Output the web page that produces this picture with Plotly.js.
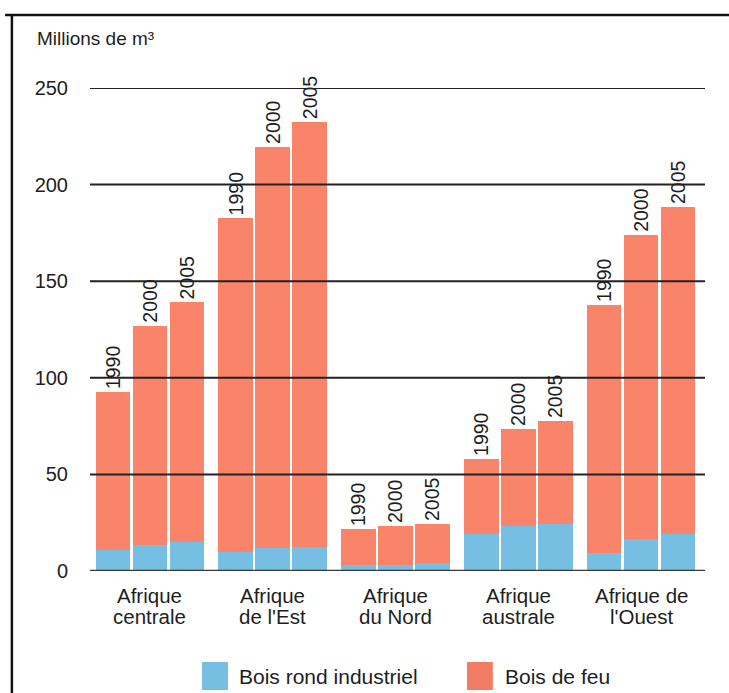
<!DOCTYPE html>
<html>
<head>
<meta charset="utf-8">
<script src="https://cdn.plot.ly/plotly-3.0.1.min.js"></script>
<style>html,body{margin:0;padding:0;background:#fff;}#chart{width:729px;height:693px;}</style>
</head>
<body>
<div id="chart"></div>
<script>
// ---- data ----
const regions = ["Afrique<br>centrale", "Afrique<br>de l'Est", "Afrique<br>du Nord", "Afrique<br>australe", "Afrique de<br>l'Ouest"];
const years = ["1990", "2000", "2005"];
// Bois rond industriel (millions m3), per region, per year
const boisRond = [
  [10.9, 13.5, 15.0],
  [9.8, 11.9, 12.4],
  [3.0, 3.0, 4.0],
  [19.2, 23.3, 24.3],
  [9.3, 16.6, 19.2]
];
// Total production (millions m3)
const totals = [
  [92.6, 127.0, 139.0],
  [182.5, 219.5, 232.3],
  [21.7, 23.3, 24.3],
  [58.0, 73.5, 77.6],
  [137.7, 174.0, 188.4]
];
const yTicks = [0, 50, 100, 150, 200, 250];
const seriesNames = ["Bois rond industriel", "Bois de feu"];

// ---- build ----
const groupPitch = 3.32;
const xs = [], rond = [], feu = [], yearText = [];
regions.forEach((r, g) => {
  years.forEach((y, k) => {
    xs.push(g * groupPitch + (k - 1));
    rond.push(boisRond[g][k]);
    feu.push(+(totals[g][k] - boisRond[g][k]).toFixed(2));
    yearText.push(y);
  });
});
const groupCenters = regions.map((r, g) => g * groupPitch);

const blue = "#76bfe2", orange = "#f9846a";
const txtColor = "#1e1e1e";
const font = "Liberation Sans, Arial, Helvetica, sans-serif";

const traces = [
  {type: "bar", x: xs, y: rond, name: seriesNames[0], width: 0.94,
   marker: {color: blue, line: {width: 0}}, hoverinfo: "y+name", showlegend: false},
  {type: "bar", x: xs, y: feu, name: seriesNames[1], width: 0.94,
   marker: {color: orange, line: {width: 0}}, hoverinfo: "y+name", showlegend: false,
   text: yearText, textposition: "outside", textangle: -90, constraintext: "none",
   cliponaxis: false, textfont: {family: font, size: 19.5, color: txtColor}}
];

// grid lines above bars
const shapes = yTicks.map(v => ({
  type: "line", xref: "paper", yref: "y", x0: 0, x1: 1, y0: v, y1: v,
  line: {color: v === 0 ? "#3a3a3a" : "#222", width: v === 0 ? 2.5 : 2}, layer: "above"
}));
// frame (top and left)
shapes.push({type: "line", xref: "paper", yref: "paper", x0: -0.138, x1: 1.05, y0: 1.151, y1: 1.151,
  line: {color: "#111", width: 2.5}, layer: "above"});
shapes.push({type: "line", xref: "paper", yref: "paper", x0: -0.127, x1: -0.127, y0: 1.151, y1: -0.27,
  line: {color: "#111", width: 2.5}, layer: "above"});
// legend swatches
shapes.push({type: "rect", xref: "paper", yref: "paper", x0: 0.182, x1: 0.2244, y0: -0.2464, y1: -0.1884,
  fillcolor: blue, line: {width: 0}});
shapes.push({type: "rect", xref: "paper", yref: "paper", x0: 0.613, x1: 0.655, y0: -0.2464, y1: -0.1884,
  fillcolor: "#f27c63", line: {width: 0}});

const annotations = [
  {xref: "paper", yref: "paper", x: -0.09, y: 1.103, xanchor: "left", yanchor: "middle",
   text: "Millions de m³", showarrow: false, font: {family: font, size: 19, color: txtColor}},
  {xref: "paper", yref: "paper", x: 0.239, y: -0.2174, xanchor: "left", yanchor: "middle",
   text: seriesNames[0], showarrow: false, font: {family: font, size: 21, color: txtColor}},
  {xref: "paper", yref: "paper", x: 0.6715, y: -0.2174, xanchor: "left", yanchor: "middle",
   text: seriesNames[1], showarrow: false, font: {family: font, size: 21, color: txtColor}}
];
// region labels, one line at a time for tighter line spacing
regions.forEach((r, g) => {
  r.split("<br>").forEach((line, i) => {
    annotations.push({xref: "x", yref: "paper", x: groupCenters[g], y: -0.05 - i * 0.044,
      xanchor: "center", yanchor: "middle", text: line, showarrow: false,
      font: {family: font, size: 20.5, color: txtColor}});
  });
});

const layout = {
  width: 729, height: 693,
  margin: {l: 90, r: 24, t: 88, b: 122},
  paper_bgcolor: "#fff", plot_bgcolor: "#fff",
  barmode: "relative", bargap: 0,
  showlegend: false,
  font: {family: font, color: txtColor},
  xaxis: {range: [-1.62, 15.01], showticklabels: false,
          showgrid: false, zeroline: false, showline: false, ticks: "", fixedrange: true},
  yaxis: {range: [0, 250], tickvals: yTicks, showgrid: false, zeroline: false, showline: false,
          ticks: "outside", ticklen: 17, tickcolor: "rgba(0,0,0,0)",
          tickfont: {family: font, size: 20, color: txtColor}, fixedrange: true},
  shapes: shapes,
  annotations: annotations
};

Plotly.newPlot("chart", traces, layout, {displayModeBar: false, staticPlot: true});
</script>
</body>
</html>
